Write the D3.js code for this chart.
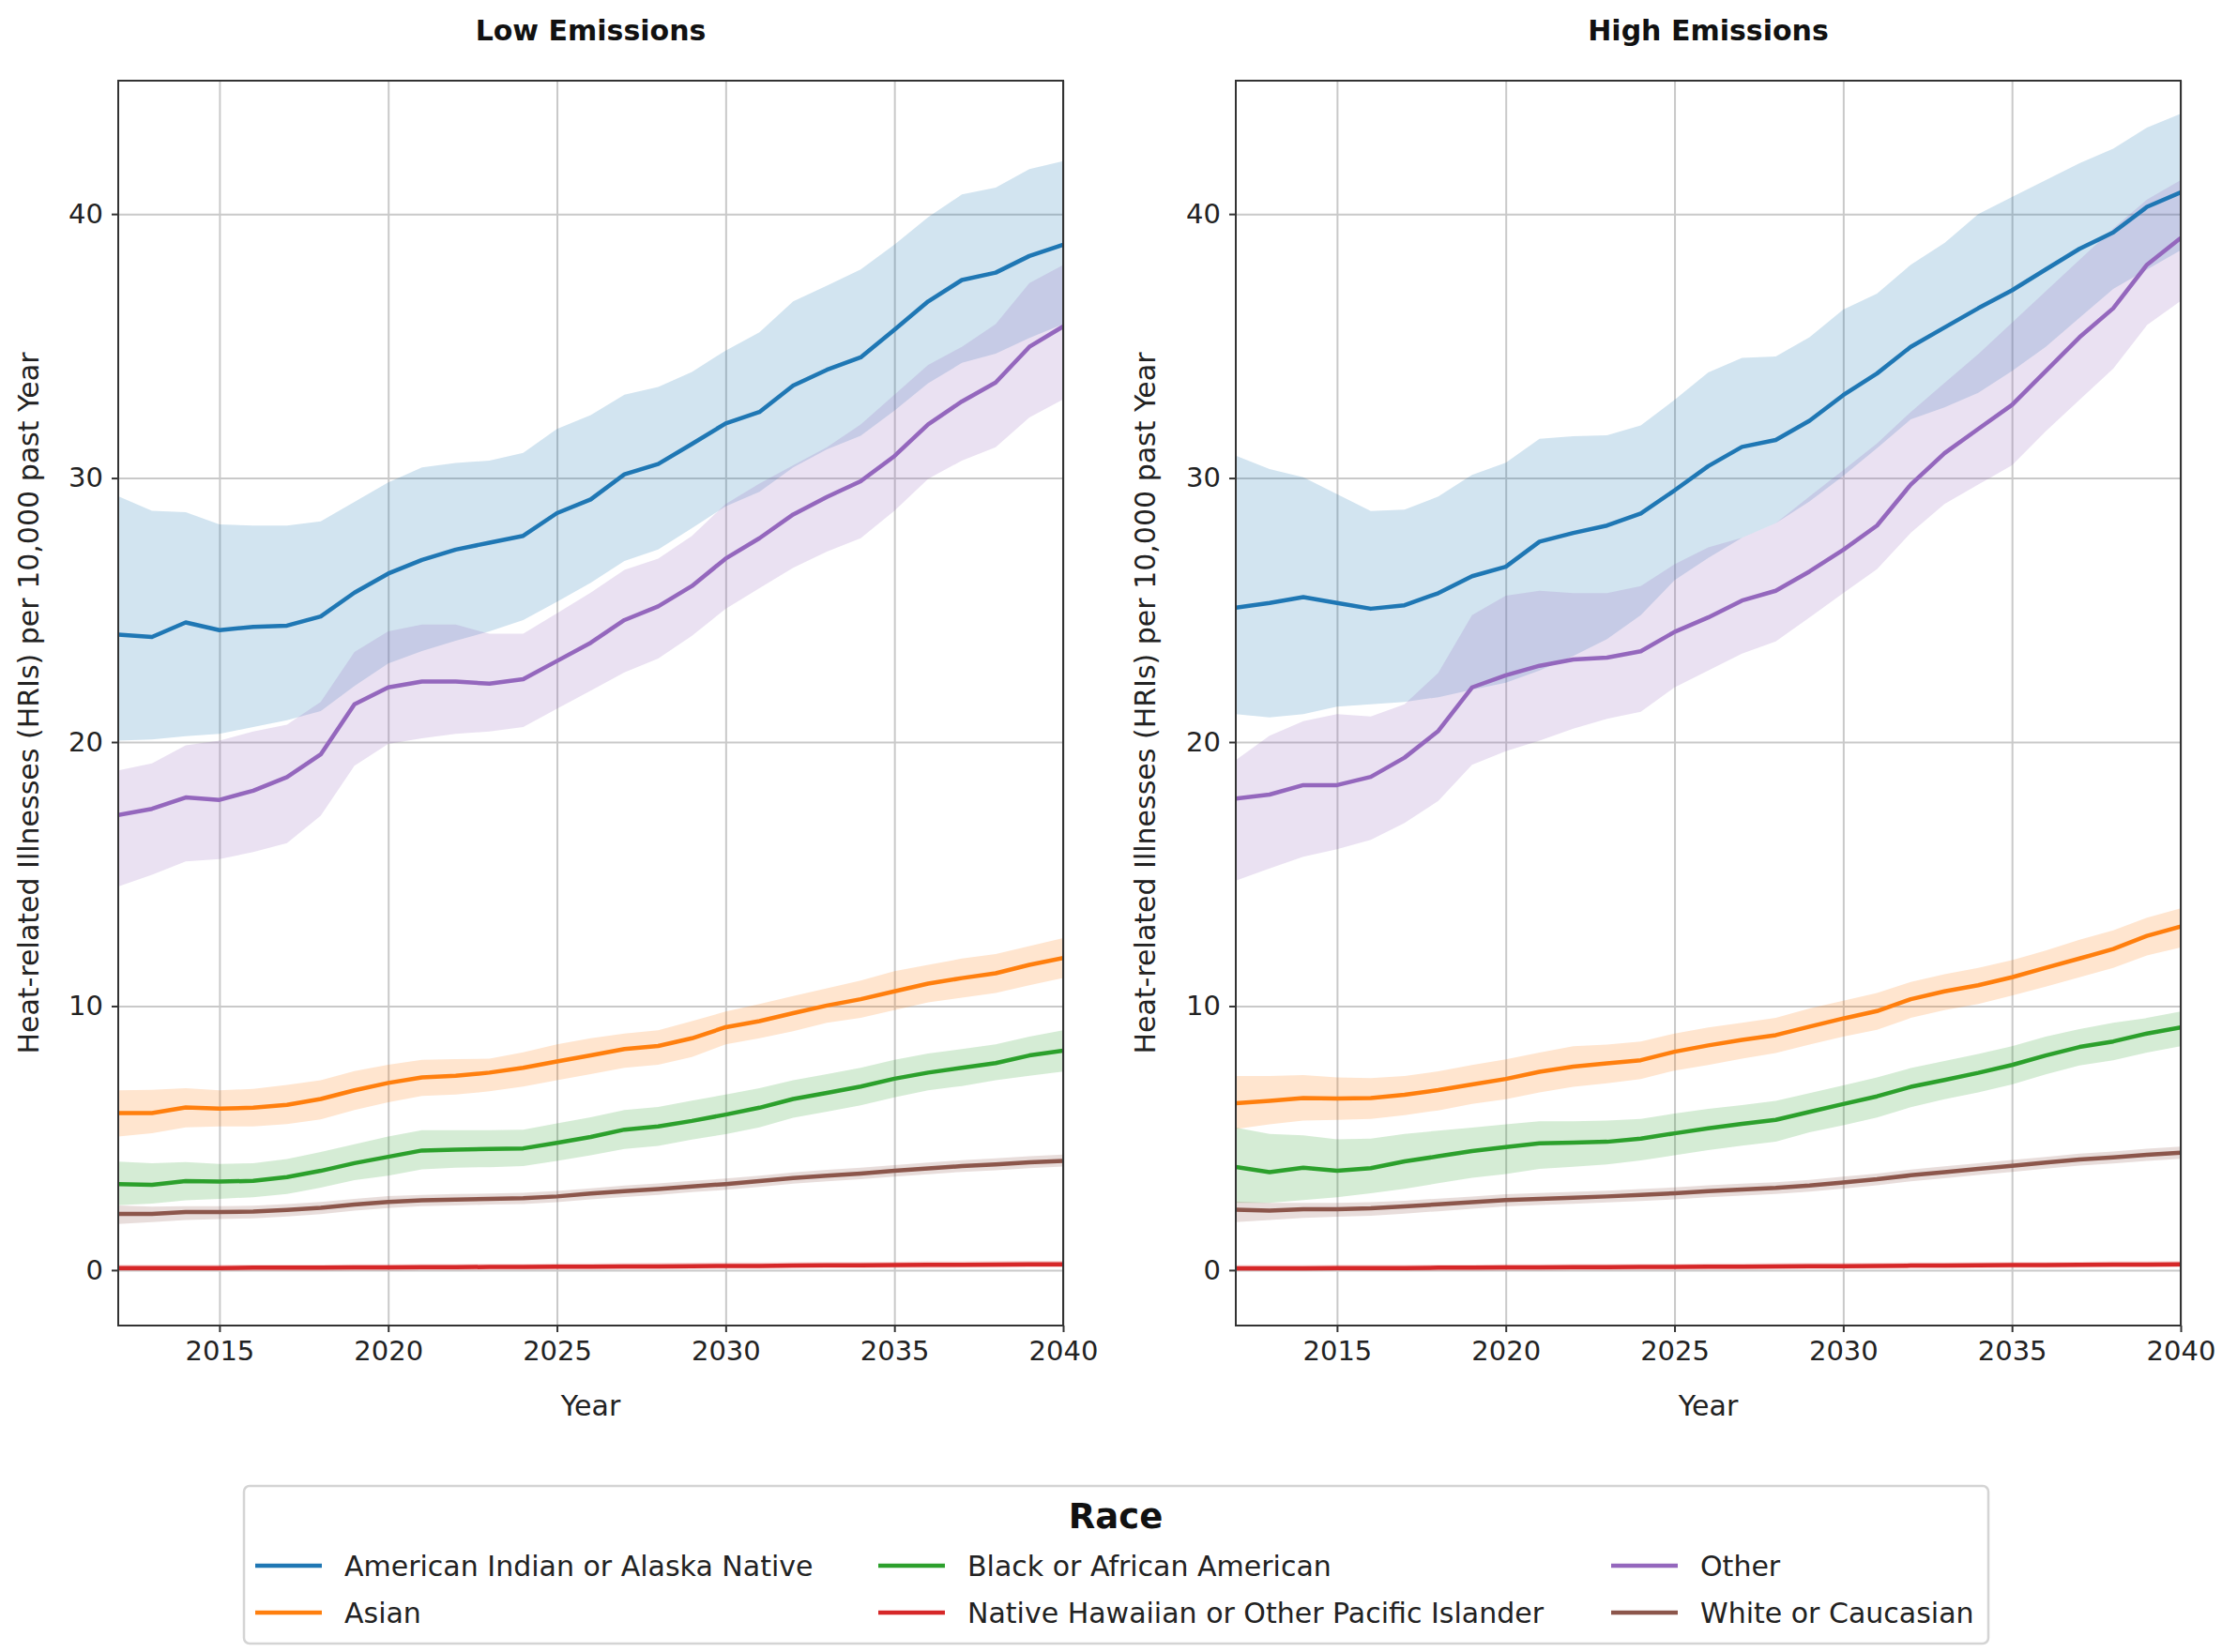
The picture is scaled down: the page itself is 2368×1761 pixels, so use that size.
<!DOCTYPE html>
<html>
<head>
<meta charset="utf-8">
<script src="https://cdn.jsdelivr.net/npm/d3@7"></script>
<style>
  body { margin: 0; background: #fff; }
  svg { display: block; font-family: "DejaVu Sans", sans-serif; }
</style>
</head>
<body>
<script>
// years on the x axis
const years = [2012,2013,2014,2015,2016,2017,2018,2019,2020,2021,2022,2023,2024,2025,2026,
               2027,2028,2029,2030,2031,2032,2033,2034,2035,2036,2037,2038,2039,2040];
const xTicks = [2015, 2020, 2025, 2030, 2035, 2040];
const yTicks = [0, 10, 20, 30, 40];

const races = ["American Indian or Alaska Native", "Asian", "Black or African American",
               "Native Hawaiian or Other Pacific Islander", "Other", "White or Caucasian"];
const raceColors = ["#1f77b4", "#ff7f0e", "#2ca02c", "#d62728", "#9467bd", "#8c564b"];

// ---- Low emissions (mean, lower, upper) ----
const lowAIAN   = [24.07,23.98,24.53,24.24,24.36,24.41,24.76,25.66,26.38,26.9,27.29,27.55,27.81,28.67,29.19,30.14,30.53,31.29,32.07,32.5,33.5,34.1,34.57,35.62,36.69,37.5,37.78,38.41,38.84];
const lowAIANLo = [20.05,20.1,20.22,20.31,20.57,20.83,21.17,22.12,22.98,23.45,23.84,24.19,24.62,25.31,26.03,26.86,27.29,28.1,28.93,29.48,30.4,31.09,31.6,32.55,33.59,34.36,34.71,35.31,35.83];
const lowAIANHi = [29.31,28.76,28.71,28.24,28.2,28.2,28.36,29.1,29.83,30.4,30.57,30.66,30.95,31.86,32.38,33.16,33.45,34.02,34.83,35.52,36.69,37.29,37.9,38.84,39.88,40.74,41.0,41.7,42.0];

const lowAsian   = [5.95,5.95,6.16,6.12,6.15,6.26,6.48,6.81,7.09,7.3,7.36,7.48,7.66,7.9,8.13,8.37,8.49,8.78,9.2,9.43,9.73,10.02,10.26,10.56,10.85,11.06,11.24,11.56,11.82];
const lowAsianLo = [5.06,5.18,5.41,5.44,5.44,5.53,5.71,6.06,6.36,6.6,6.65,6.77,6.95,7.19,7.42,7.66,7.78,8.07,8.55,8.78,9.05,9.37,9.55,9.85,10.14,10.32,10.5,10.79,11.06];
const lowAsianHi = [6.81,6.83,6.89,6.81,6.86,7.01,7.19,7.54,7.78,7.96,7.99,8.01,8.25,8.55,8.78,8.96,9.08,9.43,9.79,10.08,10.38,10.67,10.97,11.32,11.56,11.8,11.97,12.27,12.57];

const lowBlack   = [3.26,3.23,3.37,3.35,3.38,3.52,3.76,4.05,4.29,4.53,4.56,4.59,4.61,4.82,5.04,5.32,5.44,5.65,5.89,6.15,6.48,6.71,6.95,7.25,7.48,7.66,7.84,8.13,8.31];
const lowBlackLo = [2.46,2.52,2.64,2.7,2.76,2.88,3.12,3.41,3.58,3.82,3.88,3.9,3.94,4.14,4.35,4.59,4.7,4.94,5.15,5.41,5.77,6.0,6.24,6.54,6.81,6.97,7.19,7.36,7.52];
const lowBlackHi = [4.11,4.05,4.09,4.02,4.05,4.21,4.47,4.77,5.06,5.3,5.3,5.3,5.32,5.56,5.79,6.06,6.18,6.42,6.65,6.89,7.19,7.42,7.66,7.96,8.2,8.37,8.55,8.84,9.08];

const lowNHPI   = [0.08,0.08,0.08,0.08,0.09,0.09,0.09,0.1,0.1,0.11,0.11,0.12,0.12,0.13,0.13,0.14,0.14,0.15,0.16,0.16,0.17,0.18,0.18,0.19,0.2,0.2,0.21,0.22,0.22];
const lowNHPILo = [-0.03,-0.03,-0.03,-0.03,-0.02,-0.02,-0.02,-0.01,-0.01,0,0,0.01,0.01,0.02,0.02,0.03,0.03,0.04,0.05,0.05,0.06,0.07,0.07,0.08,0.08,0.09,0.09,0.1,0.1];
const lowNHPIHi = [0.2,0.2,0.2,0.2,0.21,0.21,0.21,0.22,0.22,0.23,0.23,0.24,0.24,0.25,0.25,0.26,0.27,0.28,0.29,0.29,0.3,0.31,0.31,0.32,0.33,0.33,0.34,0.35,0.35];

const lowOther   = [17.24,17.47,17.9,17.81,18.16,18.67,19.53,21.43,22.07,22.29,22.29,22.21,22.38,23.07,23.76,24.62,25.14,25.91,26.95,27.72,28.62,29.28,29.88,30.83,32.03,32.9,33.62,34.97,35.74];
const lowOtherLo = [14.53,14.97,15.48,15.57,15.83,16.17,17.21,19.1,19.93,20.14,20.31,20.4,20.57,21.26,21.95,22.64,23.16,24.02,25.05,25.83,26.6,27.21,27.72,28.76,29.97,30.66,31.17,32.29,32.98];
const lowOtherHi = [18.93,19.19,19.88,20.05,20.4,20.66,21.52,23.41,24.19,24.45,24.45,24.1,24.1,24.88,25.66,26.52,26.95,27.81,29.02,29.79,30.48,31.17,32.03,33.16,34.28,34.97,35.83,37.38,38.07];

const lowWhite   = [2.13,2.13,2.2,2.2,2.22,2.28,2.36,2.48,2.58,2.64,2.67,2.7,2.72,2.79,2.9,2.99,3.07,3.17,3.26,3.37,3.49,3.58,3.66,3.76,3.85,3.94,4.0,4.08,4.14];
const lowWhiteLo = [1.75,1.82,1.9,1.93,1.96,2.03,2.12,2.25,2.35,2.42,2.45,2.48,2.5,2.57,2.68,2.77,2.85,2.95,3.04,3.15,3.27,3.36,3.44,3.54,3.63,3.72,3.78,3.86,3.92];
const lowWhiteHi = [2.45,2.4,2.42,2.42,2.44,2.5,2.58,2.7,2.8,2.85,2.88,2.9,2.93,3.0,3.1,3.2,3.28,3.38,3.47,3.58,3.7,3.8,3.88,3.98,4.07,4.16,4.23,4.31,4.38];

// ---- High emissions (mean, lower, upper) ----
const highAIAN   = [25.09,25.27,25.49,25.27,25.05,25.18,25.64,26.28,26.64,27.59,27.92,28.2,28.66,29.53,30.45,31.18,31.44,32.17,33.14,33.96,34.97,35.7,36.43,37.11,37.9,38.68,39.3,40.27,40.82];
const highAIANLo = [21.06,20.93,21.06,21.34,21.43,21.52,21.7,21.98,22.25,22.71,23.26,23.9,24.81,26.13,26.97,27.74,28.29,29.11,30.08,31.13,32.22,32.68,33.23,34.05,34.97,36.07,37.16,37.9,38.63];
const highAIANHi = [30.85,30.34,30.03,29.39,28.75,28.8,29.3,30.12,30.58,31.49,31.58,31.62,31.99,32.96,34.0,34.55,34.6,35.33,36.38,36.98,38.08,38.9,40.0,40.64,41.28,41.92,42.47,43.27,43.8];

const highAsian   = [6.32,6.41,6.52,6.5,6.52,6.64,6.82,7.03,7.24,7.51,7.71,7.83,7.95,8.27,8.51,8.72,8.9,9.22,9.53,9.81,10.26,10.56,10.79,11.09,11.45,11.8,12.16,12.66,13.01];
const highAsianLo = [5.34,5.52,5.66,5.69,5.73,5.87,6.05,6.29,6.47,6.73,6.94,7.08,7.24,7.56,7.77,8.01,8.22,8.54,8.84,9.1,9.55,9.85,10.08,10.4,10.74,11.09,11.45,11.92,12.22];
const highAsianHi = [7.35,7.35,7.39,7.3,7.27,7.35,7.53,7.77,7.98,8.24,8.48,8.54,8.66,8.96,9.19,9.37,9.55,9.91,10.2,10.5,10.91,11.21,11.45,11.74,12.1,12.51,12.87,13.35,13.7];

const highBlack   = [3.91,3.71,3.88,3.76,3.86,4.12,4.31,4.51,4.66,4.8,4.83,4.86,4.98,5.18,5.37,5.54,5.69,5.99,6.29,6.58,6.94,7.2,7.47,7.77,8.13,8.45,8.66,8.96,9.19];
const highBlackLo = [2.55,2.55,2.65,2.76,2.91,3.08,3.29,3.5,3.64,3.83,3.91,4.0,4.15,4.35,4.54,4.71,4.86,5.22,5.49,5.78,6.17,6.47,6.73,7.03,7.41,7.75,7.95,8.24,8.48];
const highBlackHi = [5.4,5.16,5.1,4.95,4.98,5.16,5.28,5.4,5.52,5.64,5.64,5.66,5.73,5.93,6.11,6.25,6.41,6.7,7.0,7.3,7.65,7.92,8.19,8.48,8.84,9.13,9.37,9.55,9.79];

const highNHPI   = [0.07,0.07,0.07,0.08,0.08,0.08,0.09,0.09,0.1,0.1,0.11,0.11,0.12,0.12,0.13,0.13,0.14,0.15,0.15,0.16,0.17,0.17,0.18,0.19,0.19,0.2,0.21,0.21,0.22];
const highNHPILo = [-0.04,-0.04,-0.04,-0.03,-0.03,-0.03,-0.02,-0.02,-0.01,-0.01,0,0,0.01,0.01,0.02,0.02,0.03,0.04,0.04,0.05,0.06,0.06,0.07,0.08,0.08,0.09,0.1,0.1,0.11];
const highNHPIHi = [0.19,0.19,0.19,0.2,0.2,0.2,0.21,0.21,0.22,0.22,0.23,0.23,0.24,0.24,0.25,0.25,0.26,0.27,0.27,0.28,0.29,0.29,0.3,0.31,0.31,0.32,0.33,0.33,0.34];

const highOther   = [17.86,18.01,18.37,18.37,18.68,19.41,20.42,22.07,22.53,22.89,23.13,23.2,23.44,24.17,24.72,25.36,25.73,26.46,27.28,28.2,29.75,30.94,31.86,32.77,34.05,35.33,36.43,38.08,39.09];
const highOtherLo = [14.75,15.21,15.66,15.94,16.3,16.94,17.77,19.14,19.65,20.05,20.51,20.88,21.15,22.07,22.71,23.35,23.81,24.72,25.64,26.55,27.92,29.02,29.75,30.48,31.77,32.96,34.14,35.79,36.71];
const highOtherHi = [19.32,20.24,20.79,21.06,20.97,21.43,22.62,24.81,25.54,25.73,25.64,25.64,25.91,26.73,27.37,27.74,28.29,29.3,30.3,31.31,32.5,33.6,34.69,35.88,37.07,38.26,39.45,40.55,41.28];

const highWhite   = [2.29,2.25,2.31,2.31,2.34,2.41,2.49,2.57,2.65,2.7,2.74,2.79,2.85,2.91,2.99,3.05,3.11,3.2,3.32,3.44,3.59,3.71,3.83,3.95,4.07,4.19,4.27,4.37,4.45];
const highWhiteLo = [1.82,1.9,1.98,2.02,2.06,2.14,2.23,2.32,2.41,2.47,2.51,2.56,2.62,2.68,2.76,2.82,2.88,2.97,3.09,3.21,3.36,3.48,3.6,3.72,3.84,3.96,4.04,4.14,4.22];
const highWhiteHi = [2.6,2.55,2.55,2.55,2.57,2.63,2.71,2.79,2.87,2.92,2.96,3.01,3.07,3.13,3.21,3.27,3.33,3.42,3.54,3.66,3.81,3.93,4.05,4.17,4.29,4.41,4.49,4.6,4.68];


const W = 2368, H = 1761;
const plotTop = 86, plotBottom = 1413;
const yLabelText = "Heat-related Illnesses (HRIs) per 10,000 past Year";

const panels = [
    {title: "Low Emissions", left: 126, right: 1133, labelX: 30,
     mean: [lowAIAN, lowAsian, lowBlack, lowNHPI, lowOther, lowWhite],
     lo:   [lowAIANLo, lowAsianLo, lowBlackLo, lowNHPILo, lowOtherLo, lowWhiteLo],
     hi:   [lowAIANHi, lowAsianHi, lowBlackHi, lowNHPIHi, lowOtherHi, lowWhiteHi]},
    {title: "High Emissions", left: 1317, right: 2324, labelX: 1220,
     mean: [highAIAN, highAsian, highBlack, highNHPI, highOther, highWhite],
     lo:   [highAIANLo, highAsianLo, highBlackLo, highNHPILo, highOtherLo, highWhiteLo],
     hi:   [highAIANHi, highAsianHi, highBlackHi, highNHPIHi, highOtherHi, highWhiteHi]}
];

const svg = d3.select("body").append("svg")
    .attr("width", W)
    .attr("height", H);

svg.append("rect").attr("width", W).attr("height", H).attr("fill", "#fff");

const y = d3.scaleLinear()
    .domain([-2.1, 45.05])
    .range([plotBottom, plotTop]);

panels.forEach(function(p, pi){

    const x = d3.scaleLinear()
        .domain([2012, 2040])
        .range([p.left, p.right]);

    const g = svg.append("g");
    const clipId = "clip" + pi;
    g.append("clipPath").attr("id", clipId)
        .append("rect")
        .attr("x", p.left).attr("y", plotTop)
        .attr("width", p.right - p.left).attr("height", plotBottom - plotTop);

    // grid
    g.append("g")
        .attr("transform", "translate(0," + plotBottom + ")")
        .call(d3.axisBottom(x).tickValues(xTicks).tickSize(-(plotBottom - plotTop)).tickFormat(""))
        .call(function(s){ s.select(".domain").remove(); })
        .selectAll("line").attr("stroke", "#c9c9c9").attr("stroke-width", 2);
    g.append("g")
        .attr("transform", "translate(" + p.left + ",0)")
        .call(d3.axisLeft(y).tickValues(yTicks).tickSize(-(p.right - p.left)).tickFormat(""))
        .call(function(s){ s.select(".domain").remove(); })
        .selectAll("line").attr("stroke", "#c9c9c9").attr("stroke-width", 2);

    const plot = g.append("g").attr("clip-path", "url(#" + clipId + ")");

    const area = d3.area()
        .x(function(d, i){ return x(years[i]); })
        .y0(function(d){ return y(d[0]); })
        .y1(function(d){ return y(d[1]); });

    const line = d3.line()
        .x(function(d, i){ return x(years[i]); })
        .y(function(d){ return y(d); });

    races.forEach(function(r, k){
        const band = p.lo[k].map(function(v, i){ return [v, p.hi[k][i]]; });
        plot.append("path")
            .datum(band)
            .attr("d", area)
            .attr("fill", raceColors[k])
            .attr("fill-opacity", 0.2);
    });
    races.forEach(function(r, k){
        plot.append("path")
            .datum(p.mean[k])
            .attr("d", line)
            .attr("fill", "none")
            .attr("stroke", raceColors[k])
            .attr("stroke-width", 4.5)
            .attr("stroke-linejoin", "round");
    });

    // axes
    const xAxis = g.append("g")
        .attr("transform", "translate(0," + plotBottom + ")")
        .call(d3.axisBottom(x).tickValues(xTicks).tickFormat(d3.format("d")).tickSize(7).tickPadding(9));
    const yAxis = g.append("g")
        .attr("transform", "translate(" + p.left + ",0)")
        .call(d3.axisLeft(y).tickValues(yTicks).tickSize(7).tickPadding(9));
    [xAxis, yAxis].forEach(function(a){
        a.select(".domain").remove();
        a.selectAll("line").attr("stroke", "#333").attr("stroke-width", 2);
        a.selectAll("text").attr("font-size", 29).attr("fill", "#222")
            .attr("font-family", "DejaVu Sans");
    });

    // frame
    g.append("rect")
        .attr("x", p.left).attr("y", plotTop)
        .attr("width", p.right - p.left).attr("height", plotBottom - plotTop)
        .attr("fill", "none").attr("stroke", "#333").attr("stroke-width", 2);

    const cx = (p.left + p.right) / 2;
    svg.append("text")
        .attr("x", cx).attr("y", 43)
        .attr("text-anchor", "middle")
        .attr("font-size", 30).attr("font-weight", "bold").attr("fill", "#111")
        .text(p.title);

    svg.append("text")
        .attr("x", cx).attr("y", 1509)
        .attr("text-anchor", "middle")
        .attr("font-size", 30).attr("fill", "#222")
        .text("Year");

    svg.append("text")
        .attr("transform", "translate(" + p.labelX + "," + ((plotTop + plotBottom) / 2) + ") rotate(-90)")
        .attr("text-anchor", "middle")
        .attr("dy", "0.35em")
        .attr("font-size", 30).attr("fill", "#222")
        .text(yLabelText);
});

// legend
const legend = svg.append("g");
legend.append("rect")
    .attr("x", 260).attr("y", 1584).attr("width", 1859).attr("height", 168)
    .attr("rx", 6)
    .attr("fill", "#fff").attr("stroke", "#d4d4d4").attr("stroke-width", 2.5);
legend.append("text")
    .attr("x", 1189).attr("y", 1629)
    .attr("text-anchor", "middle")
    .attr("font-size", 37).attr("font-weight", "bold").attr("fill", "#111")
    .text("Race");

const colX = [272, 936, 1717];
const rowY = [1669, 1719];
races.forEach(function(r, k){
    const cx = colX[Math.floor(k / 2)];
    const cy = rowY[k % 2];
    legend.append("line")
        .attr("x1", cx).attr("x2", cx + 71)
        .attr("y1", cy).attr("y2", cy)
        .attr("stroke", raceColors[k]).attr("stroke-width", 4.5);
    legend.append("text")
        .attr("x", cx + 95).attr("y", cy)
        .attr("dy", "0.35em")
        .attr("font-size", 30).attr("fill", "#222")
        .text(r);
});
</script>
</body>
</html>
